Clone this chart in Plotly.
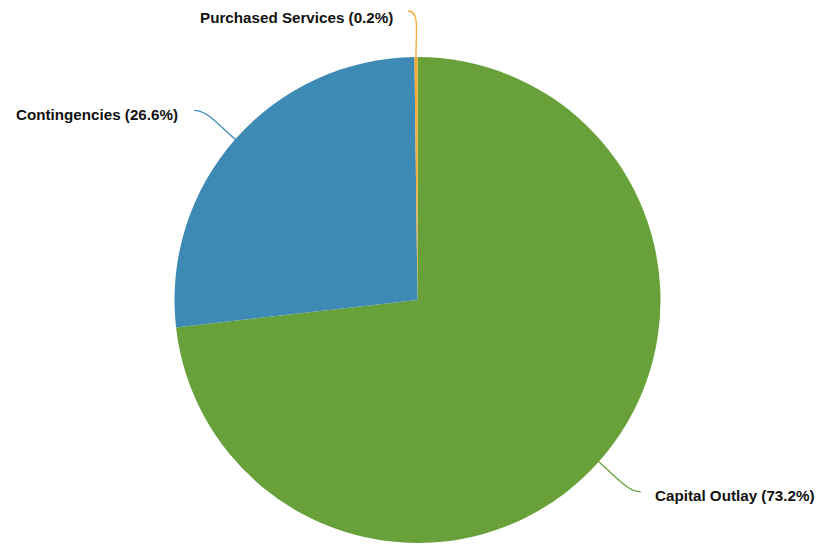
import math
import plotly.graph_objects as go

categories = ["Capital Outlay", "Contingencies", "Purchased Services"]
shares = [73.2, 26.6, 0.2]
colors = ["#68a03a", "#3d8ab5", "#f7a734"]

W, H = 816, 544
CX, CY, R = 417.5, 300.0, 243.0

# connector end offsets from slice edge (px) and label offsets from connector end
conn_end = [(42, 30), (-41, -29), (-8, -46)]
label_off = [(12, 4, "left"), (-14, 4, "right"), (-13, 6, "right")]


def px(x, y):
    return x / W, 1 - y / H


fig = go.Figure(go.Pie(
    labels=categories, values=shares, sort=False, direction="clockwise",
    rotation=0, marker=dict(colors=colors, line=dict(width=0)),
    textinfo="none", hoverinfo="label+percent", showlegend=False,
    domain=dict(x=[px(CX - R, 0)[0], px(CX + R, 0)[0]],
                y=[max(0, px(0, CY + R)[1]), min(1, px(0, CY - R)[1])]),
))

total = sum(shares)
cum = 0.0
shapes, annotations = [], []
for i, (cat, v) in enumerate(zip(categories, shares)):
    mid = (cum + v / 2) / total
    cum += v
    th = 2 * math.pi * mid
    dx, dy = math.sin(th), -math.cos(th)
    x0, y0 = CX + R * dx, CY + R * dy
    ex, ey = x0 + conn_end[i][0], y0 + conn_end[i][1]
    k = R + 0.55 * math.hypot(*conn_end[i])
    c1x, c1y = CX + k * dx, CY + k * dy
    sgn = 1 if conn_end[i][0] > 0 else -1
    c2x, c2y = ex - sgn * 12, ey
    pts = [px(x0, y0), px(c1x, c1y), px(c2x, c2y), px(ex, ey)]
    path = "M {} {} C {} {}, {} {}, {} {}".format(*[f"{c:.5f}" for p in pts for c in p])
    shapes.append(dict(type="path", xref="paper", yref="paper", path=path,
                       line=dict(color=colors[i], width=1.3)))
    lx, ly = ex + label_off[i][0], ey + label_off[i][1]
    ax, ay = px(lx, ly)
    pct = v / total * 100
    annotations.append(dict(
        x=ax, y=ay, xref="paper", yref="paper", showarrow=False,
        xanchor=label_off[i][2], yanchor="middle",
        text=f"{cat} ({pct:.1f}%)",
        font=dict(family="Liberation Sans, Arial, sans-serif", size=15.2, color="#111111", weight="bold"),
    ))

fig.update_layout(
    width=W, height=H, margin=dict(l=0, r=0, t=0, b=0),
    paper_bgcolor="white", plot_bgcolor="white",
    shapes=shapes, annotations=annotations,
)

fig.write_html(
    "out.html",
    config={"displayModeBar": False},
    post_script="document.body.style.margin='0';document.body.style.overflow='hidden';",
)
